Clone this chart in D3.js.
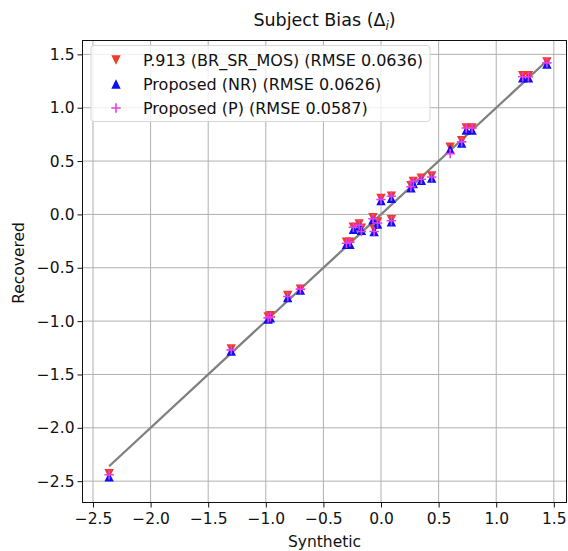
<!DOCTYPE html>
<html>
<head>
<meta charset="utf-8">
<script src="https://cdn.jsdelivr.net/npm/d3@7"></script>
<style>
  body { margin: 0; background: #fff; }
  text { font-family: "DejaVu Sans", sans-serif; fill: #111; }
</style>
</head>
<body>
<svg id="chart" width="568" height="551"></svg>
<script>
(function() {

  // synthetic subject bias and the recovered values of each method
  var synthetic = [-2.36, -1.30, -0.98, -0.96, -0.81, -0.70, -0.30, -0.27, -0.24, -0.19, -0.17,
                   -0.07, -0.06, -0.03, 0.00, 0.09, 0.09, 0.26, 0.28, 0.35, 0.44, 0.60, 0.70,
                   0.74, 0.79, 1.23, 1.28, 1.44];
  var p913 =      [-2.43, -1.26, -0.96, -0.95, -0.76, -0.70, -0.26, -0.26, -0.12, -0.09, -0.13,
                   -0.03, -0.14, -0.07, 0.15, 0.17, -0.05, 0.27, 0.31, 0.34, 0.36, 0.63, 0.69,
                   0.81, 0.81, 1.30, 1.30, 1.43];
  var nr =        [-2.46, -1.28, -0.98, -0.97, -0.78, -0.71, -0.28, -0.28, -0.14, -0.11, -0.15,
                   -0.05, -0.16, -0.09, 0.13, 0.15, -0.07, 0.25, 0.29, 0.32, 0.34, 0.61, 0.67,
                   0.79, 0.79, 1.28, 1.28, 1.41];
  var proposedP = [-2.44, -1.27, -0.97, -0.96, -0.77, -0.70, -0.27, -0.26, -0.12, -0.10, -0.16,
                   -0.04, -0.16, -0.08, 0.14, 0.17, -0.06, 0.26, 0.31, 0.33, 0.35, 0.57, 0.68,
                   0.81, 0.81, 1.29, 1.29, 1.42];

  var legendLabels = ["P.913 (BR_SR_MOS) (RMSE 0.0636)",
                      "Proposed (NR) (RMSE 0.0626)",
                      "Proposed (P) (RMSE 0.0587)"];
  var ticks = [-2.5, -2.0, -1.5, -1.0, -0.5, 0.0, 0.5, 1.0, 1.5];

  var margin = {left: 82.5, right: 566.5, top: 40.5, bottom: 502.5};
  var fontSize = "15.5px";

  var svg = d3.select("#chart");

  var x = d3.scaleLinear()
      .domain([-2.591, 1.610])
      .range([margin.left, margin.right]);

  var y = d3.scaleLinear()
      .domain([-2.70, 1.63])
      .range([margin.bottom, margin.top]);

  var fmt = d3.format(".1f");
  var minus = d => fmt(d).replace("-", "\u2212");

  // grid
  var grid = svg.append("g");
  grid.selectAll(".gx").data(ticks).enter().append("line")
      .attr("x1", d => x(d)).attr("x2", d => x(d))
      .attr("y1", margin.top).attr("y2", margin.bottom)
      .attr("stroke", "#b0b0b0").attr("stroke-width", 1);
  grid.selectAll(".gy").data(ticks).enter().append("line")
      .attr("y1", d => y(d)).attr("y2", d => y(d))
      .attr("x1", margin.left).attr("x2", margin.right)
      .attr("stroke", "#b0b0b0").attr("stroke-width", 1);

  // axes
  var xAxis = svg.append("g")
      .attr("transform", "translate(0," + margin.bottom + ")")
      .call(d3.axisBottom(x).tickValues(ticks).tickSize(5).tickPadding(5).tickFormat(minus));
  var yAxis = svg.append("g")
      .attr("transform", "translate(" + margin.left + ",0)")
      .call(d3.axisLeft(y).tickValues(ticks).tickSize(5).tickPadding(3).tickFormat(minus));

  [xAxis, yAxis].forEach(a => {
    a.select(".domain").remove();
    a.selectAll("text").style("font-size", fontSize).style("font-family", "DejaVu Sans").attr("fill", "#111");
    a.selectAll("line").attr("stroke", "#111");
  });

  // identity line
  var ext = d3.extent(synthetic);
  svg.append("line")
      .attr("x1", x(ext[0])).attr("y1", y(ext[0]))
      .attr("x2", x(ext[1])).attr("y2", y(ext[1]))
      .attr("stroke", "#808080").attr("stroke-width", 2.3);

  var s = 4.7;
  var down = "M" + (-s) + "," + (-s) + "L" + s + "," + (-s) + "L0," + s + "Z";
  var up = "M" + (-s) + "," + s + "L" + s + "," + s + "L0," + (-s) + "Z";
  var plus = "M" + (-s) + ",0L" + s + ",0M0," + (-s) + "L0," + s;

  var red = "#ee3b2b", blue = "#0a10f5", magenta = "#e83ce8";

  function drawSeries(vals, shape, color, isPlus) {
    svg.append("g").selectAll("path")
        .data(synthetic).enter().append("path")
        .attr("transform", (d, i) => "translate(" + x(d) + "," + y(vals[i]) + ")")
        .attr("d", shape)
        .attr("fill", isPlus ? "none" : color)
        .attr("stroke", isPlus ? color : "none")
        .attr("stroke-width", 1.6);
  }

  drawSeries(p913, down, red, false);
  drawSeries(nr, up, blue, false);
  drawSeries(proposedP, plus, magenta, true);

  // frame
  svg.append("rect")
      .attr("x", margin.left).attr("y", margin.top)
      .attr("width", margin.right - margin.left)
      .attr("height", margin.bottom - margin.top)
      .attr("fill", "none").attr("stroke", "#111").attr("stroke-width", 1);

  // legend
  var legend = svg.append("g");
  legend.append("rect")
      .attr("x", 91).attr("y", 45.5).attr("width", 339).attr("height", 76)
      .attr("rx", 3).attr("fill", "#fff").attr("fill-opacity", 0.8)
      .attr("stroke", "#d6d6d6");
  var shapes = [[down, red, false], [up, blue, false], [plus, magenta, true]];
  legendLabels.forEach((lab, i) => {
    var row = 60 + i * 24;
    legend.append("path")
        .attr("transform", "translate(116," + row + ")")
        .attr("d", shapes[i][0])
        .attr("fill", shapes[i][2] ? "none" : shapes[i][1])
        .attr("stroke", shapes[i][2] ? shapes[i][1] : "none")
        .attr("stroke-width", 1.6);
    legend.append("text")
        .attr("x", 143).attr("y", row)
        .attr("dy", "0.35em")
        .style("font-size", "16px")
        .text(lab);
  });

  // title and labels
  var title = svg.append("text")
      .attr("x", (margin.left + margin.right) / 2).attr("y", 26)
      .attr("text-anchor", "middle")
      .style("font-size", "17.5px");
  title.append("tspan").text("Subject Bias (\u0394");
  title.append("tspan").attr("dy", 4).style("font-size", "12px").style("font-style", "italic").text("i");
  title.append("tspan").attr("dy", -4).text(")");

  svg.append("text")
      .attr("x", (margin.left + margin.right) / 2).attr("y", 547)
      .attr("text-anchor", "middle")
      .style("font-size", fontSize)
      .text("Synthetic");

  svg.append("text")
      .attr("transform", "translate(24,263) rotate(-90)")
      .attr("text-anchor", "middle")
      .style("font-size", fontSize)
      .text("Recovered");

})();
</script>
</body>
</html>
